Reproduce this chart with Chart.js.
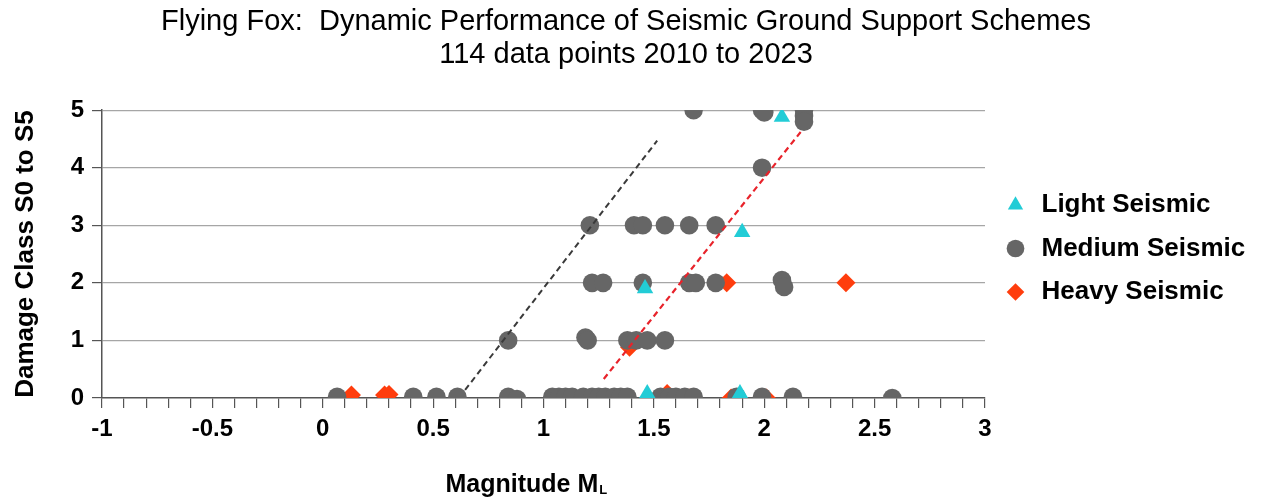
<!DOCTYPE html>
<html>
<head>
<meta charset="utf-8">
<script src="https://cdn.jsdelivr.net/npm/chart.js@4/dist/chart.umd.min.js"></script>
<style>
  html, body { margin: 0; padding: 0; background: #fff; }
</style>
</head>
<body>
<canvas id="c" width="1264" height="497"></canvas>
<script>
// chart text
const titleLines = ['Flying Fox:  Dynamic Performance of Seismic Ground Support Schemes', '114 data points 2010 to 2023']
const yTitle = 'Damage Class S0 to S5'
const xTitle = 'Magnitude M'
const xTitleSub = 'L'
const seriesNames = ['Light Seismic', 'Medium Seismic', 'Heavy Seismic']

// Light seismic (triangles)
const lightX = [1.47, 1.89, 1.46, 1.90, 2.08]
const lightY = [0.08, 0.08, 1.90, 2.88, 4.88]

// Medium seismic (circles)
const mediumX = [0.065, 0.41, 0.515, 0.61, 0.84, 0.88, 1.04, 1.07, 1.10, 1.13, 1.18, 1.22, 1.25, 1.28, 1.32, 1.35, 1.38,
                 1.53, 1.57, 1.60, 1.64, 1.68, 1.875, 1.99, 2.13, 2.58,
                 0.84, 1.19, 1.20, 1.38, 1.42, 1.47, 1.55,
                 1.22, 1.27, 1.45, 1.66, 1.69, 1.78, 2.08, 2.09,
                 1.21, 1.41, 1.45, 1.55, 1.66, 1.78,
                 1.99,
                 1.68, 1.99, 2.00, 2.18, 2.18, 2.18]
const mediumY = [0.02, 0.02, 0.02, 0.02, 0.02, -0.02, 0.02, 0.02, 0.02, 0.02, 0.02, 0.02, 0.02, 0.02, 0.02, 0.02, 0.02,
                 0.02, 0.02, 0.02, 0.02, 0.02, 0.02, 0.02, 0.02, 0.0,
                 1.0, 1.05, 1.0, 1.0, 1.0, 1.0, 1.0,
                 2.0, 2.0, 2.0, 2.0, 2.0, 2.0, 2.05, 1.93,
                 3.0, 3.0, 3.0, 3.0, 3.0, 3.0,
                 4.0,
                 5.0, 5.0, 4.96, 5.0, 4.9, 4.8]

// Heavy seismic (diamonds)
const heavyX = [0.13, 0.28, 0.30, 1.17, 1.53, 1.56, 1.66, 1.85, 2.01, 1.39, 1.83, 2.37]
const heavyY = [0.05, 0.05, 0.06, 0.0, 0.0, 0.08, 0.0, 0.0, 0.0, 0.88, 2.0, 2.0]

// dashed trend lines
const trendBlackX = [0.645, 1.515]
const trendBlackY = [0.14, 4.47]
const trendRedX = [1.273, 2.165]
const trendRedY = [0.33, 4.62]

const fontFamily = '"Liberation Sans", Arial, sans-serif'

function pts(xs, ys) {
    return xs.map((x, i) => ({x: x, y: ys[i]}))
}

// draws "Magnitude M" with the subscript L under the x axis
const xTitlePlugin = {
    id: 'xTitle',
    afterDraw(chart) {
        const ctx = chart.ctx
        const cx = chart.scales.x.getPixelForValue(0.92)
        ctx.save()
        ctx.fillStyle = '#000'
        ctx.textBaseline = 'alphabetic'
        ctx.font = 'bold 25px ' + fontFamily
        const w = ctx.measureText(xTitle).width
        ctx.font = 'bold 13px ' + fontFamily
        const ws = ctx.measureText(xTitleSub).width
        const left = cx - (w + ws) / 2
        ctx.font = 'bold 25px ' + fontFamily
        ctx.fillText(xTitle, left, 492)
        ctx.font = 'bold 13px ' + fontFamily
        ctx.fillText(xTitleSub, left + w + 1, 494)
        ctx.restore()
    }
}

const cyan = '#22CCD6'
const gray = '#666666'
const red = '#FF3D0D'

new Chart(document.getElementById('c'), {
    type: 'scatter',
    data: {
        datasets: [
            {label: seriesNames[0], data: pts(lightX, lightY), pointStyle: 'triangle', pointRadius: 9.5,
             backgroundColor: cyan, borderColor: cyan, borderWidth: 0, order: 1},
            {label: seriesNames[1], data: pts(mediumX, mediumY), pointStyle: 'circle', pointRadius: 9.3,
             backgroundColor: gray, borderColor: gray, borderWidth: 0, order: 2},
            {label: seriesNames[2], data: pts(heavyX, heavyY), pointStyle: 'rectRot', pointRadius: 9.5,
             backgroundColor: red, borderColor: red, borderWidth: 0, order: 3},
            {label: 'trendBlack', data: pts(trendBlackX, trendBlackY), showLine: true, pointRadius: 0,
             borderColor: '#3a3a3a', borderWidth: 2, borderDash: [6, 4], order: 0},
            {label: 'trendRed', data: pts(trendRedX, trendRedY), showLine: true, pointRadius: 0,
             borderColor: '#E8232B', borderWidth: 2.2, borderDash: [6, 4], order: 0}
        ]
    },
    options: {
        responsive: false,
        animation: false,
        layout: {padding: {left: 0, right: 12, top: 0, bottom: 0}},
        plugins: {
            title: {
                display: true,
                text: titleLines,
                color: '#000',
                font: {family: fontFamily, size: 29, weight: 'normal', lineHeight: 1.14},
                padding: {top: 5, bottom: 39}
            },
            legend: {
                position: 'right',
                maxWidth: 267,
                labels: {
                    usePointStyle: true,
                    boxWidth: 26,
                    boxHeight: 12.5,
                    padding: 17.5,
                    color: '#000',
                    font: {family: fontFamily, size: 26, weight: 'bold'},
                    filter: item => item.datasetIndex < 3
                }
            },
            tooltip: {enabled: false}
        },
        scales: {
            x: {
                min: -1,
                max: 3,
                afterFit: scale => { scale.height = 99 },
                border: {color: '#555', width: 1.5},
                grid: {drawOnChartArea: false, tickLength: 10, color: '#555', lineWidth: 1.2},
                ticks: {
                    stepSize: 0.1,
                    autoSkip: false,
                    maxRotation: 0,
                    minRotation: 0,
                    padding: 7,
                    color: '#000',
                    font: {family: fontFamily, size: 24, weight: 'bold'},
                    callback: v => {
                        if (Math.abs(v * 2 - Math.round(v * 2)) > 1e-6) return ''
                        const r = Math.round(v * 2) / 2
                        return Number.isInteger(r) ? String(r) : r.toFixed(1)
                    }
                }
            },
            y: {
                min: 0,
                max: 5,
                afterFit: scale => { scale.width = 102 },
                border: {color: '#555', width: 1.5},
                grid: {
                    color: ctx => ctx.tick && ctx.tick.value === 0 ? 'rgba(0,0,0,0)' : '#a6a6a6',
                    tickColor: '#555',
                    tickLength: 10,
                    lineWidth: 1.2
                },
                ticks: {
                    stepSize: 1,
                    padding: 8,
                    color: '#000',
                    font: {family: fontFamily, size: 24, weight: 'bold'}
                },
                title: {
                    display: true,
                    text: yTitle,
                    color: '#000',
                    font: {family: fontFamily, size: 26, weight: 'bold', lineHeight: 1.2},
                    padding: {top: 10, bottom: 0}
                }
            }
        }
    },
    plugins: [xTitlePlugin]
})
</script>
</body>
</html>
